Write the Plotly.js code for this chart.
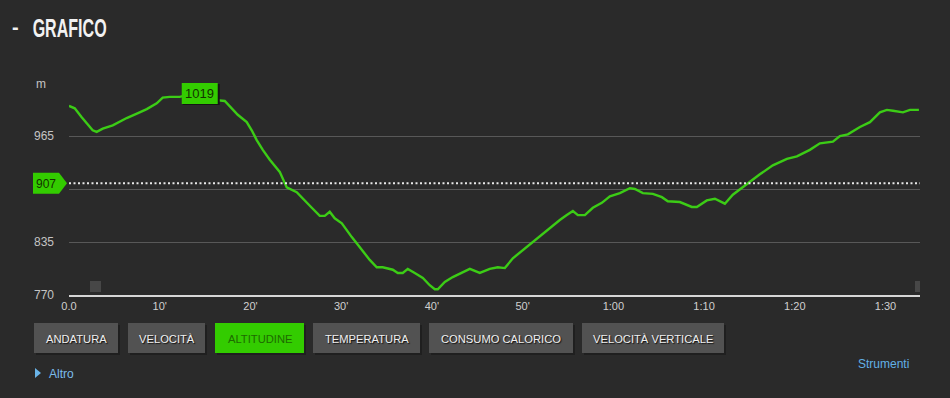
<!DOCTYPE html>
<html><head><meta charset="utf-8">
<script src="https://cdn.plot.ly/plotly-3.0.1.min.js"></script>
<style>html,body{margin:0;padding:0;background:#2a2a2a;overflow:hidden}#chart{width:950px;height:398px}</style>
</head><body><div id="chart"></div>
<script>
// ---- data ----
const minutes = [0.0,0.63,1.40,2.06,2.61,3.05,3.72,4.82,6.36,7.79,8.57,9.67,10.33,11.1,12.21,13.31,14.41,15.51,16.28,17.17,17.72,18.6,19.59,20.14,20.69,21.36,22.13,22.68,23.23,24.0,25.1,26.76,27.64,28.19,28.74,29.29,30.07,31.17,32.05,33.15,33.92,34.58,35.69,36.24,36.79,37.34,38.11,39.0,39.76,40.32,40.65,41.42,42.3,43.29,44.18,45.28,46.38,47.26,48.04,48.92,50.46,51.57,53.0,54.1,54.87,55.54,56.09,56.86,57.74,58.73,59.62,60.72,61.82,62.37,63.25,64.36,65.35,66.0,67.33,68.65,69.2,70.3,71.19,72.29,73.17,74.71,76.15,77.58,79.13,80.23,81.66,82.77,84.2,84.97,85.85,87.18,88.28,89.38,90.15,90.82,91.92,92.69,93.68];
const altitude = [1002,999,988,980,972,970,974,978,987,994,998,1005,1012,1013,1013,1016,1019,1017,1009,1008,1001,991,982,972,960,948,936,928,921,902,896,877,867,867,872,864,858,841,829,813,804,804,801,797,797,802,797,791,782,777,777,786,792,797,802,797,802,804,803,815,829,840,853,862,868,873,868,868,877,883,891,895,901,900,895,894,890,885,884,878,878,886,888,882,893,906,918,929,937,940,948,956,958,965,967,976,982,994,997,996,994,997,997];
const xTickVals = [0,10,20,30,40,50,60,70,80,90];
const xTickText = ["0.0","10'","20'","30'","40'","50'","1:00","1:10","1:20","1:30"];
const yTickVals = [770,835,900,965,1030];
const yTickText = ["770","835","","965",""];
const yUnit = "m";
const refAltitude = 907;
const buttonLabels = ["ANDATURA","VELOCITÀ","ALTITUDINE","TEMPERATURA","CONSUMO CALORICO","VELOCITÀ VERTICALE"];
const activeButton = "ALTITUDINE";

// ---- layout geometry ----
const Wd = 950, Ht = 398;
const L = 69, R = 30, T = 83, B = 103;
const PW = Wd - L - R, PH = Ht - T - B;
const xRange = [0, 93.8], yRange = [770, 1030];
const px = p => (p - L) / PW;
const py = p => (T + PH - p) / PH;
const dx = t => L + (t - xRange[0]) / (xRange[1] - xRange[0]) * PW;
const dy = v => T + (yRange[1] - v) / (yRange[1] - yRange[0]) * PH;

const GREEN = '#33cc00';
const SANS = 'Liberation Sans, Arial, sans-serif';
const shapes = [];
const annotations = [];
const ann = (o) => annotations.push(Object.assign({xref:'paper', yref:'paper', showarrow:false, xanchor:'center', yanchor:'middle'}, o));

// reference dotted line
shapes.push({type:'line', xref:'paper', yref:'y', x0:0, x1:1, y0:refAltitude, y1:refAltitude,
  line:{color:'#e8e8e8', width:2, dash:'2px,2.5px'}, layer:'above'});

// ref marker (pentagon)
const ry = dy(refAltitude);
shapes.push({type:'path', xref:'paper', yref:'paper',
  path:`M${px(33)},${py(ry-10.5)} L${px(59)},${py(ry-10.5)} L${px(67)},${py(ry)} L${px(59)},${py(ry+10.5)} L${px(33)},${py(ry+10.5)} Z`,
  fillcolor:GREEN, line:{width:0}, layer:'above'});
ann({x:px(46), y:py(ry+0.5), text:String(refAltitude), font:{family:SANS, size:12, color:'#143300'}});

// max marker
let iMax = 0; altitude.forEach((v,i)=>{ if (v > altitude[iMax]) iMax = i; });
const mx = dx(minutes[iMax]), my = dy(altitude[iMax]);
shapes.push({type:'rect', xref:'paper', yref:'paper', x0:px(mx-17), x1:px(mx+20), y0:py(my+13), y1:py(my-8),
  fillcolor:'#151515', line:{width:0}, layer:'above'});
shapes.push({type:'rect', xref:'paper', yref:'paper', x0:px(mx-18), x1:px(mx+18), y0:py(my+12), y1:py(my-9),
  fillcolor:GREEN, line:{width:0}, layer:'above'});
ann({x:px(mx), y:py(my+1.5), text:String(altitude[iMax]), font:{family:SANS, size:13, color:'#143300'}});

// y unit label
ann({x:px(34), y:py(dy(yRange[1])+0.5), xanchor:'left', text:yUnit, font:{family:SANS, size:12, color:'#c4c4c4'}});

// small grey handles
shapes.push({type:'rect', xref:'paper', yref:'paper', x0:px(90), x1:px(101), y0:py(292), y1:py(281), fillcolor:'#474747', line:{width:0}});
shapes.push({type:'rect', xref:'paper', yref:'paper', x0:px(915), x1:px(920), y0:py(292), y1:py(281), fillcolor:'#474747', line:{width:0}});

// title
ann({x:px(15), y:py(27), text:'-', font:{family:SANS, size:20, color:'#f2f2f2', weight:700}});
ann({x:px(69), y:py(28), text:'GRAFICO', font:{family:SANS, size:25, color:'#f2f2f2', weight:700}});

// buttons
const btnX = [[34,118],[128,205],[215,304],[313,420],[429,573],[582,724]];
buttonLabels.forEach((lab,i)=>{
  const [a,b] = btnX[i];
  const active = lab === activeButton;
  shapes.push({type:'rect', xref:'paper', yref:'paper', x0:px(a+2), x1:px(b+2), y0:py(355), y1:py(325),
    fillcolor:'#1f1f1f', line:{width:0}});
  shapes.push({type:'rect', xref:'paper', yref:'paper', x0:px(a), x1:px(b), y0:py(353), y1:py(323),
    fillcolor: active ? GREEN : '#525252', line:{width:0}});
  ann({x:px((a+b)/2), y:py(338.5), text:lab,
    font:{family:SANS, size:11.2, color: active ? '#1e6a00' : '#f0f0f0',
      shadow: active ? 'none' : '1px 1px 1px #111'}});
});

// Altro / Strumenti
shapes.push({type:'path', xref:'paper', yref:'paper',
  path:`M${px(35)},${py(368)} L${px(41)},${py(373)} L${px(35)},${py(378)} Z`, fillcolor:'#6ab4e8', line:{width:0}});
ann({x:px(47), y:py(373.5), xanchor:'left', text:'Altro', font:{family:SANS, size:12, color:'#7cbcec'}});
ann({x:px(911), y:py(363.5), xanchor:'right', text:'Strumenti', font:{family:SANS, size:12, color:'#62b0e6'}});

const trace = {x:minutes, y:altitude, type:'scatter', mode:'lines',
  line:{color:'#3ccc16', width:2.4}, hoverinfo:'skip'};

const layout = {
  width:Wd, height:Ht, margin:{l:L, r:R, t:T, b:B},
  paper_bgcolor:'#2a2a2a', plot_bgcolor:'#2a2a2a',
  showlegend:false,
  xaxis:{range:xRange, tickvals:xTickVals, ticktext:xTickText, showgrid:false, zeroline:false,
    showline:true, linecolor:'#d6d6d6', linewidth:2, ticks:'', ticklabelstandoff:0,
    tickfont:{family:SANS, size:11, color:'#d0d0d0'}, fixedrange:true},
  yaxis:{range:yRange, tickvals:yTickVals, ticktext:yTickText, showgrid:true, gridcolor:'#585858', gridwidth:1,
    zeroline:false, showline:false, ticks:'', ticklabelstandoff:14,
    tickfont:{family:SANS, size:12, color:'#c4c4c4'}, fixedrange:true},
  shapes, annotations
};
Plotly.newPlot('chart', [trace], layout, {displayModeBar:false, staticPlot:true}).then(gd => {
  // condensed title lettering
  gd.querySelectorAll('.annotation-text').forEach(t => {
    if (t.textContent === 'GRAFICO') {
      t.setAttribute('textLength', '74');
      t.setAttribute('lengthAdjust', 'spacingAndGlyphs');
    }
  });
});
</script></body></html>
